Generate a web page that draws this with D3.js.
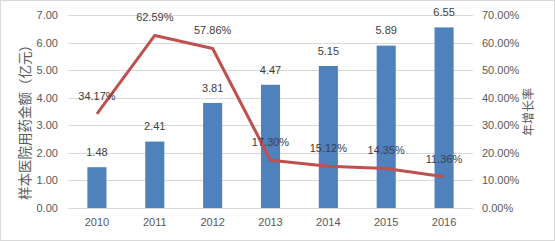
<!DOCTYPE html>
<html>
<head>
<meta charset="utf-8">
<script src="https://cdn.jsdelivr.net/npm/d3@7"></script>
<style>
body { margin: 0; background: #fff; }
svg { display: block; font-family: "Liberation Sans", Arial, sans-serif; }
</style>
</head>
<body>
<svg id="chart" width="555" height="241"></svg>
<script>
// Data
var years = ["2010", "2011", "2012", "2013", "2014", "2015", "2016"]
var amount = [1.48, 2.41, 3.81, 4.47, 5.15, 5.89, 6.55]
var growth = [34.17, 62.59, 57.86, 17.30, 15.12, 14.35, 11.36]
var leftTicks = [0, 1, 2, 3, 4, 5, 6, 7]
var rightTicks = [0, 10, 20, 30, 40, 50, 60, 70]

var svg = d3.select("#chart")
var margin = {top: 15, left: 68, right: 82, bottom: 33}
var width = 555 - margin.left - margin.right
var height = 241 - margin.top - margin.bottom
var textColor = "#595959"

// outer frame
svg.append("rect")
	.attr("x", 0.5).attr("y", 0.5)
	.attr("width", 554).attr("height", 240)
	.attr("fill", "#fff").attr("stroke", "#d9d9d9")

var g = svg.append("g").attr("transform", "translate(" + margin.left + "," + margin.top + ")")

var x = d3.scaleBand().domain(years).range([0, width]).paddingInner(0.67).paddingOuter(0.335)
var xc = d3.scaleBand().domain(years).range([0, width])
var y = d3.scaleLinear().domain([0, 7]).range([height, 0])
var y2 = d3.scaleLinear().domain([0, 70]).range([height, 0])

// gridlines
g.selectAll(".grid")
	.data(leftTicks)
	.enter().append("line")
	.attr("x1", 0).attr("x2", width)
	.attr("y1", function(d) { return Math.round(y(d)) + 0.5 })
	.attr("y2", function(d) { return Math.round(y(d)) + 0.5 })
	.attr("stroke", "#d9d9d9")

// left axis
var yAxis = g.append("g")
	.call(d3.axisLeft(y).tickValues(leftTicks).tickFormat(d3.format(".2f")).tickSize(0).tickPadding(10))
yAxis.select(".domain").remove()
yAxis.selectAll("text").attr("fill", textColor).style("font-size", "11px")

// right axis
var y2Axis = g.append("g")
	.attr("transform", "translate(" + width + ",0)")
	.call(d3.axisRight(y2).tickValues(rightTicks).tickFormat(function(d) { return d.toFixed(2) + "%" }).tickSize(0).tickPadding(9))
y2Axis.select(".domain").remove()
y2Axis.selectAll("text").attr("fill", textColor).style("font-size", "11px")

// x axis
var xAxis = g.append("g")
	.attr("transform", "translate(0," + height + ")")
	.call(d3.axisBottom(xc).tickSize(0).tickPadding(10))
xAxis.select(".domain").remove()
xAxis.selectAll("text").attr("fill", textColor).style("font-size", "11px")

// bars
g.selectAll(".bar")
	.data(amount)
	.enter().append("rect")
	.attr("x", function(d, i) { return x(years[i]) })
	.attr("y", function(d) { return y(d) })
	.attr("width", x.bandwidth())
	.attr("height", function(d) { return height - y(d) })
	.attr("fill", "#4f81bd")

g.selectAll(".barLabel")
	.data(amount)
	.enter().append("text")
	.attr("x", function(d, i) { return xc(years[i]) + xc.bandwidth() / 2 })
	.attr("y", function(d) { return y(d) - 15 })
	.attr("dy", "0.35em")
	.attr("text-anchor", "middle")
	.attr("fill", "#404040")
	.style("font-size", "11px")
	.text(function(d) { return d.toFixed(2) })

// growth line
var line = d3.line()
	.x(function(d, i) { return xc(years[i]) + xc.bandwidth() / 2 })
	.y(function(d) { return y2(d) })

g.append("path")
	.datum(growth)
	.attr("d", line)
	.attr("fill", "none")
	.attr("stroke", "#c0504d")
	.attr("stroke-width", 3)
	.attr("stroke-linejoin", "round")

g.selectAll(".lineLabel")
	.data(growth)
	.enter().append("text")
	.attr("x", function(d, i) { return xc(years[i]) + xc.bandwidth() / 2 })
	.attr("y", function(d) { return y2(d) - 18 })
	.attr("dy", "0.35em")
	.attr("text-anchor", "middle")
	.attr("fill", "#404040")
	.style("font-size", "11px")
	.text(function(d) { return d.toFixed(2) + "%" })

// axis titles
svg.append("text")
	.attr("transform", "translate(25,119) rotate(-90)")
	.attr("dy", "0.35em")
	.attr("text-anchor", "middle")
	.attr("fill", textColor)
	.style("font-size", "13.5px")
	.style("font-family", "'Noto Sans CJK SC', sans-serif")
	.text("样本医院用药金额（亿元）")

svg.append("text")
	.attr("transform", "translate(529,112) rotate(-90)")
	.attr("dy", "0.35em")
	.attr("text-anchor", "middle")
	.attr("fill", textColor)
	.style("font-size", "12px")
	.style("font-family", "'Noto Sans CJK SC', sans-serif")
	.text("年增长率")
</script>
</body>
</html>
